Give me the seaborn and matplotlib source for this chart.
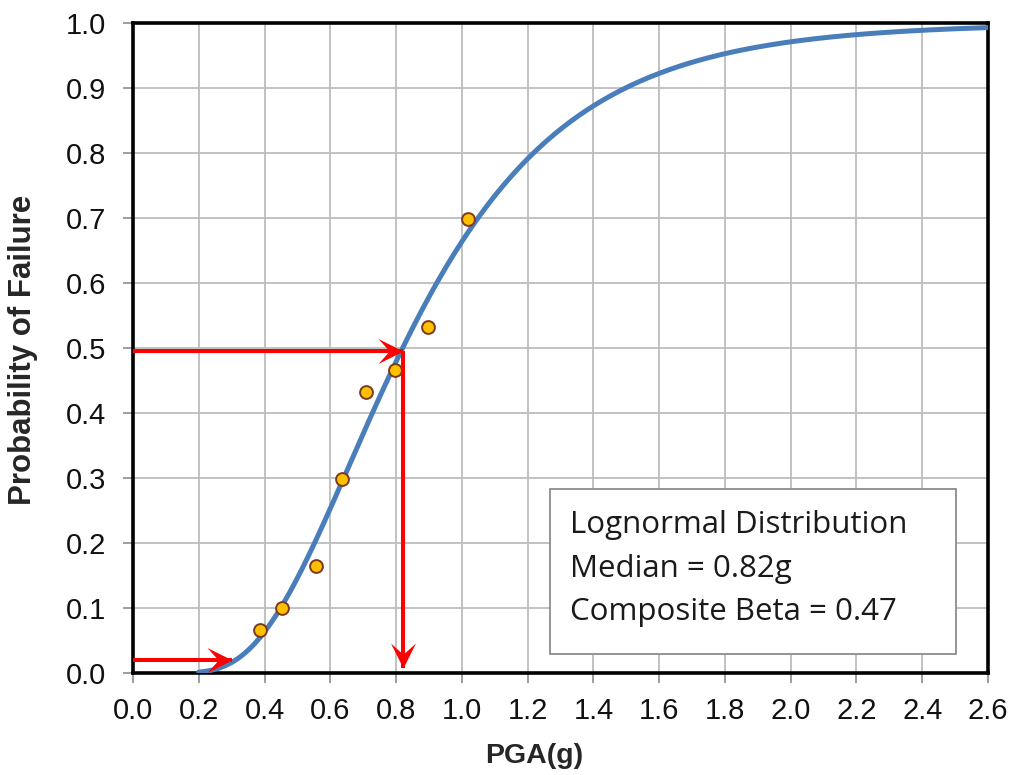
import math
import numpy as np
import pandas as pd
import matplotlib
matplotlib.use("Agg")
import matplotlib.pyplot as plt
from matplotlib.path import Path
from matplotlib.markers import MarkerStyle
from matplotlib.transforms import Affine2D
import seaborn as sns

# Observed failure fractions at each tested PGA level
pga_obs = [0.386, 0.452, 0.558, 0.636, 0.710, 0.798, 0.897, 1.020]
pf_obs = [0.066, 0.100, 0.165, 0.299, 0.433, 0.466, 0.533, 0.698]

# Fitted lognormal fragility parameters
median_g = 0.82
beta = 0.47
curve_start, curve_end = 0.2, 2.6

x_ticks = [round(0.2 * i, 1) for i in range(14)]
y_ticks = [round(0.1 * i, 1) for i in range(11)]

info_lines = ["Lognormal Distribution",
              f"Median = {median_g:.2f}g",
              f"Composite Beta = {beta:.2f}"]

# Reading arrows: (start, end) in PGA / probability units
arrow_low = ((0.0, 0.02), (0.30, 0.02))
arrow_med_h = ((0.0, 0.495), (median_g, 0.495))
arrow_med_v = ((median_g, 0.495), (median_g, 0.008))

sns.set_theme(style="whitegrid")
plt.rcParams["font.family"] = ["Liberation Sans", "DejaVu Sans"]

pga = np.linspace(curve_start, curve_end, 400)
pf = [0.5 * (1 + math.erf(math.log(v / median_g) / (beta * math.sqrt(2)))) for v in pga]
curve = pd.DataFrame({"PGA": pga, "Pf": pf})
obs = pd.DataFrame({"PGA": pga_obs, "Pf": pf_obs})

fig = plt.figure(figsize=(10.12, 7.75), dpi=100)
ax = fig.add_axes([0.1314, 0.1316, 0.9763 - 0.1314, 0.9703 - 0.1316])
ax.set_facecolor("white")

sns.lineplot(data=curve, x="PGA", y="Pf", ax=ax, color="#4a7ebb",
             linewidth=3.6, zorder=3)
sns.scatterplot(data=obs, x="PGA", y="Pf", ax=ax, color="#ffc000",
                edgecolor="#7b3a1e", linewidth=1.4, s=85, zorder=4)

# Notched arrowhead, tip at the origin
head_path = Path([(0, 0), (-1.0, 0.5), (-0.55, 0.0), (-1.0, -0.5), (0, 0)],
                 [Path.MOVETO, Path.LINETO, Path.LINETO, Path.LINETO, Path.CLOSEPOLY])

def reading_arrow(start, end):
    (x0, y0), (x1, y1) = start, end
    ax.plot([x0, x1], [y0, y1], color="#ff0000", lw=2.9, zorder=5,
            solid_capstyle="butt", clip_on=False)
    angle = 0 if y0 == y1 else (-90 if y1 < y0 else 90)
    if x1 < x0:
        angle = 180
    m = MarkerStyle(head_path, transform=Affine2D().rotate_deg(angle))
    ax.plot([x1], [y1], marker=m, markersize=36, color="#ff0000",
            markeredgewidth=0, zorder=6, clip_on=False)

reading_arrow(*arrow_low)
reading_arrow(*arrow_med_h)
reading_arrow(*arrow_med_v)

# Parameter box
ax.add_patch(plt.Rectangle((1.267, 0.030), 2.502 - 1.267, 0.283 - 0.030,
                           facecolor="white", edgecolor="#8c8c8c", lw=1.3, zorder=7))
for i, line in enumerate(info_lines):
    ax.text(1.33, 0.2149 - i * 0.0667, line, fontsize=22.5,
            family=["Open Sans", "DejaVu Sans"],
            color="#1a1a1a", va="baseline", ha="left", zorder=8)

ax.set_xlim(0, 2.6)
ax.set_ylim(0, 1.0)
ax.set_xticks(x_ticks)
ax.set_yticks(y_ticks)
ax.set_xticklabels([f"{v:.1f}" for v in x_ticks])
ax.set_yticklabels([f"{v:.1f}" for v in y_ticks])
ax.grid(True, color="#bdbdbd", lw=1.3)
ax.tick_params(axis="both", which="major", labelsize=21, length=7, width=1.2,
               color="#8c8c8c", direction="out", labelcolor="#111111")
ax.tick_params(axis="x", bottom=True, pad=10.5)
ax.tick_params(axis="y", left=True, pad=12.5)
for s in ax.spines.values():
    s.set_visible(True)
    s.set_color("black")
    s.set_linewidth(2.6)

ax.set_xlabel("PGA(g)", fontsize=20.5, fontweight="bold")
ax.set_ylabel("Probability of Failure", fontsize=22.5, fontweight="bold")
ax.xaxis.set_label_coords(0.469, -0.107)
ax.yaxis.set_label_coords(-0.111, 0.497)

fig.savefig("out.png", dpi=100, facecolor="white")
